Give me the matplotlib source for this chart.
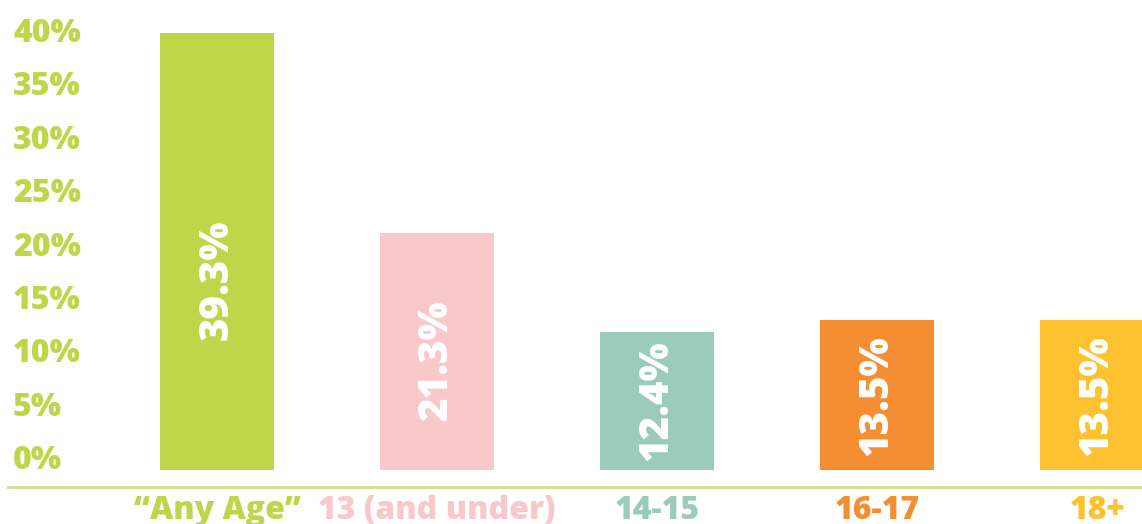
import matplotlib
matplotlib.use("Agg")
import matplotlib.pyplot as plt
import numpy as np

# data
categories = ["\u201cAny Age\u201d", "13 (and under)", "14-15", "16-17", "18+"]
values = [39.3, 21.3, 12.4, 13.5, 13.5]
bar_labels = ["39.3%", "21.3%", "12.4%", "13.5%", "13.5%"]
colors = ["#bfd64a", "#f9c8cb", "#9acbbb", "#f58d33", "#fec12f"]
ytick_values = [0, 5, 10, 15, 20, 25, 30, 35, 40]
ytick_labels = ["0%", "5%", "10%", "15%", "20%", "25%", "30%", "35%", "40%"]

W, H = 1142, 524
plt.rcParams["font.family"] = ["Open Sans", "DejaVu Sans"]

fig = plt.figure(figsize=(W / 100, H / 100), dpi=100)

# main axes: bottom edge at the bar baseline
base_px = 470
px_per_pct = 11.12
step_px = 220
first_px = 217
ax = fig.add_axes([0, (H - base_px) / H, 1, base_px / H])
x = np.arange(len(categories))
ax.bar(x, values, width=114 / step_px, color=colors, zorder=2)
ax.set_xlim(-first_px / step_px, (W - first_px) / step_px)
ax.set_ylim(0, base_px / px_per_pct)

# value labels sit a little below the middle on the taller bars
for xi, v, lab in zip(x, values, bar_labels):
    ax.text(xi, v * 0.406 + 1.17, lab, rotation=90, ha="center", va="center",
            color="white", fontsize=29, fontweight="heavy", zorder=3)

for s in ["top", "left", "right"]:
    ax.spines[s].set_visible(False)
ax.spines["bottom"].set_position(("outward", 12))
ax.spines["bottom"].set_color("#cfe08a")
ax.spines["bottom"].set_linewidth(2)
xl = ax.get_xlim()
ax.spines["bottom"].set_bounds(xl[0] + 8 / step_px, xl[1])
ax.set_yticks([])
ax.set_xticks(x)
ax.set_xticklabels(categories, fontsize=23, fontweight="heavy")
for t, c in zip(ax.get_xticklabels(), colors):
    t.set_color(c)
ax.tick_params(axis="x", length=0, pad=6)

# y tick labels on their own scale, left aligned
lax = fig.add_axes([0, 0, 13 / W, 1])
lax.set_ylim(-(H - 457) / 10.675, 457 / 10.675)
lax.set_xticks([])
for s in lax.spines.values():
    s.set_visible(False)
lax.patch.set_visible(False)
lax.yaxis.tick_right()
lax.set_yticks(ytick_values)
lax.set_yticklabels(ytick_labels, fontsize=23, fontweight="heavy",
                    color=colors[0], ha="left")
lax.tick_params(axis="y", length=0, pad=0)

fig.savefig("out.png", dpi=100)
